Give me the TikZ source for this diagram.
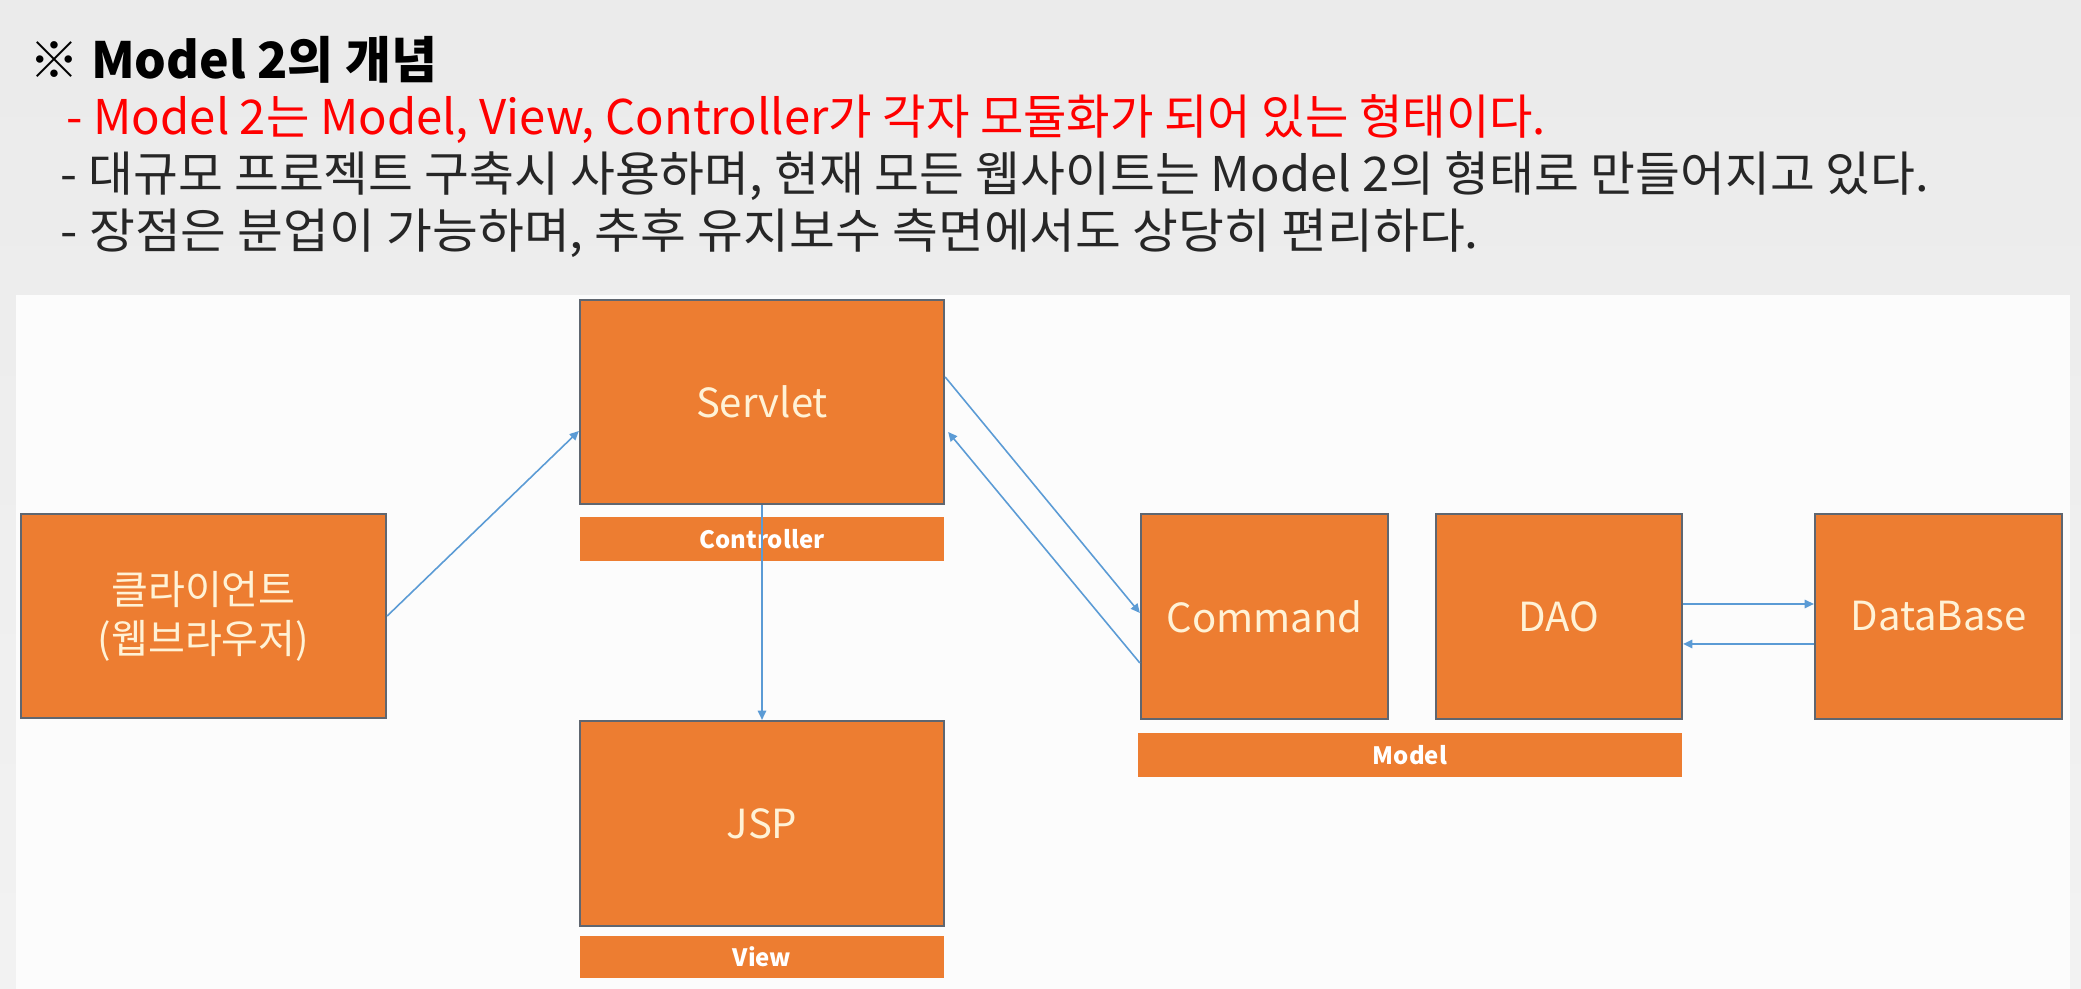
\documentclass[tikz,border=0pt]{standalone}
\usepackage{fontspec}
\usepackage{graphicx}
\setmainfont{Noto Sans CJK KR}
\usetikzlibrary{arrows.meta,calc}
\definecolor{org}{HTML}{ED7D31}
\definecolor{bord}{HTML}{5F6670}
\definecolor{cream}{HTML}{FFF2D6}
\definecolor{arr}{HTML}{5B9BD5}
\definecolor{bodytxt}{HTML}{262626}
\definecolor{redtxt}{HTML}{FF0000}
\begin{document}
\begin{tikzpicture}[x=0.01cm,y=-0.01cm,
  box/.style={draw=bord, line width=0.6pt, fill=org, text=cream, align=center,
    font=\fontsize{11.4}{14}\selectfont, inner sep=0pt},
  bar/.style={fill=org, text=white, inner sep=0pt,
    font=\fontsize{6.8}{8}\selectfont\bfseries},
  conn/.style={draw=arr, line width=0.45pt, -{Triangle[width=2.4pt,length=2.6pt]}},
  txt/.style={anchor=west, inner sep=0pt},
  bodyfont/.style={font=\fontsize{13.6}{16}\selectfont}]
\useasboundingbox (0,0) rectangle (2081,989);
\shade[top color=black!8, bottom color=black!5] (0,0) rectangle (2081,989);
\fill[white!99!black] (16,295) rectangle (2070,989);

% header texts
\node[txt, font=\fontsize{14.2}{17}\selectfont\bfseries] (title) at (29,60) {※ Model 2의 개념};
\node[txt, text=redtxt, bodyfont] (l1) at (66,119) {\scalebox{0.987}[1]{- Model 2는 Model, View, Controller가 각자 모듈화가 되어 있는 형태이다.}};
\node[txt, text=bodytxt, bodyfont] (l2) at (60,176) {\scalebox{1.02}[1]{- 대규모 프로젝트 구축시 사용하며, 현재 모든 웹사이트는 Model 2의 형태로 만들어지고 있다.}};
\node[txt, text=bodytxt, bodyfont] (l3) at (60,233) {\scalebox{1.042}[1]{- 장점은 분업이 가능하며, 추후 유지보수 측면에서도 상당히 편리하다.}};

% boxes
\node[box, minimum width=3.65cm, minimum height=2.04cm] (client) at (203.5,616) {클라이언트\\(웹브라우저)};
\node[box, minimum width=3.64cm, minimum height=2.04cm] (servlet) at (762,402) {Servlet};
\node[bar, minimum width=3.64cm, minimum height=0.44cm] (ctrl) at (762,539) {Controller};
\node[box, minimum width=3.64cm, minimum height=2.05cm] (jsp) at (762,823.5) {JSP};
\node[bar, minimum width=3.64cm, minimum height=0.42cm] (view) at (762,957) {View};
\node[box, minimum width=2.47cm, minimum height=2.05cm] (command) at (1264.5,616.5) {Command};
\node[box, minimum width=2.46cm, minimum height=2.05cm] (dao) at (1559,616.5) {DAO};
\node[box, minimum width=2.47cm, minimum height=2.05cm] (db) at (1938.5,616.5) {DataBase};
\node[bar, minimum width=5.44cm, minimum height=0.44cm] (model) at (1410,755) {Model};

% connectors
\draw[conn] (client.east) -- ($(servlet.west)+(0,29)$);
\draw[conn] (servlet.south) -- (jsp.north);
\draw[conn] ($(servlet.east)+(0,-25)$) -- ($(command.west)+(0,-3.5)$);
\draw[conn] ($(command.west)+(0,46.5)$) -- ($(servlet.east)+(3,30)$);
\draw[conn] ($(dao.east)+(0,-12.5)$) -- ($(db.west)+(0,-12.5)$);
\draw[conn] ($(db.west)+(0,27.5)$) -- ($(dao.east)+(0,27.5)$);
\end{tikzpicture}
\end{document}
